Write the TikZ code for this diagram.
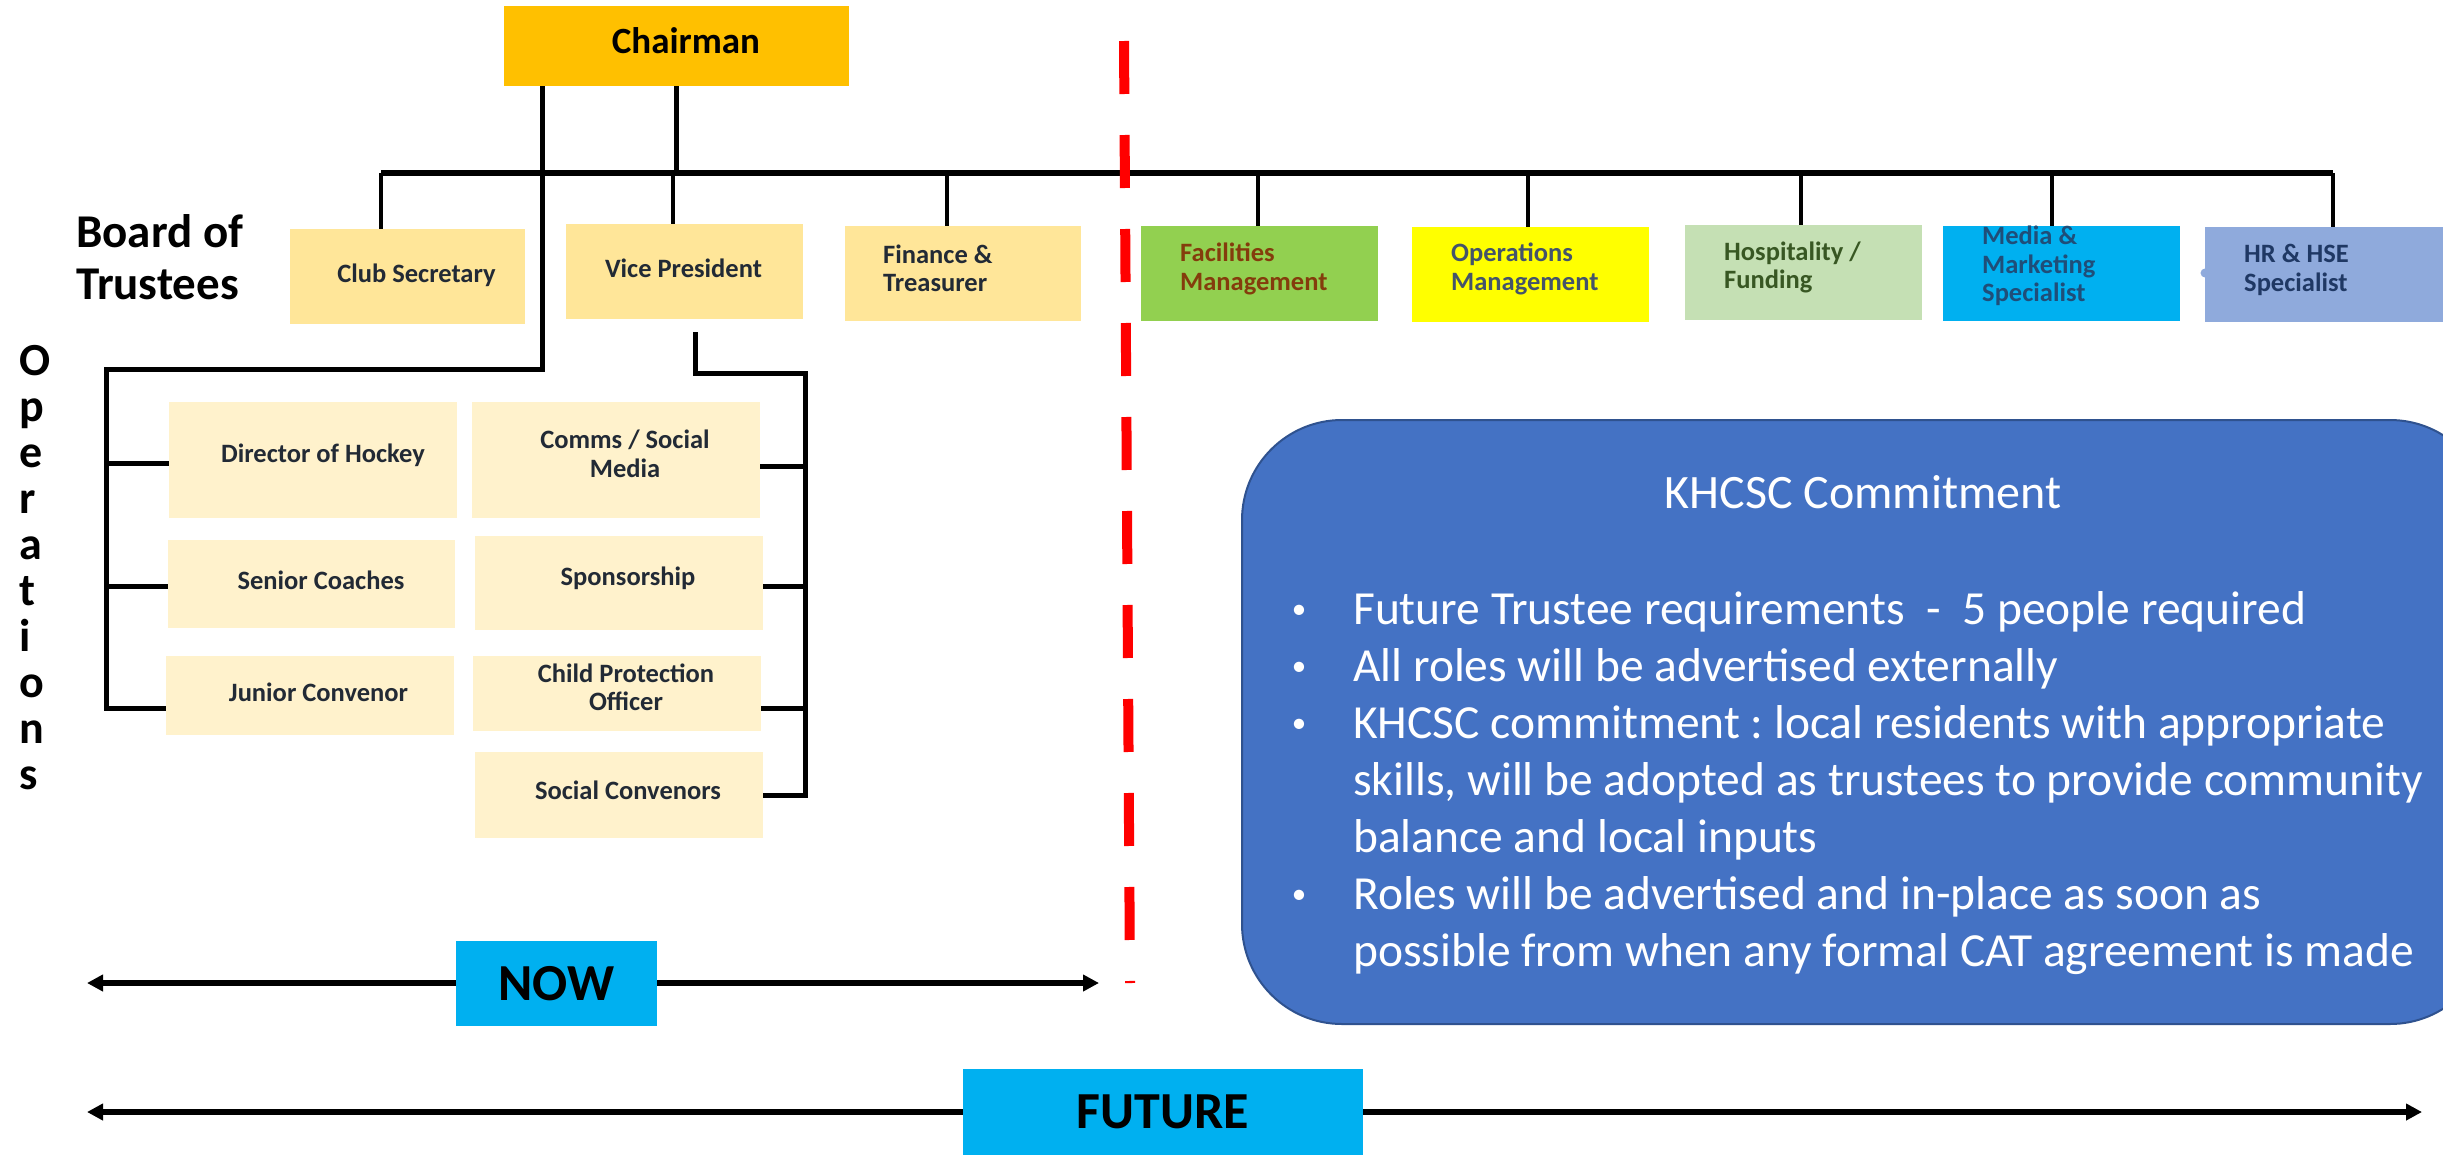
\documentclass[tikz,border=0pt]{standalone}
\usepackage{fontspec}
\setmainfont{Carlito}
\usetikzlibrary{arrows.meta}
\frenchspacing
\definecolor{chairc}{HTML}{FFC000}
\definecolor{boardc}{HTML}{FFE699}
\definecolor{opsc}{HTML}{FFF2CC}
\definecolor{facc}{HTML}{92D050}
\definecolor{factext}{HTML}{843C0C}
\definecolor{opmc}{HTML}{FFFF00}
\definecolor{opmtext}{HTML}{44546A}
\definecolor{hospc}{HTML}{C5E0B4}
\definecolor{hosptext}{HTML}{385723}
\definecolor{cyanc}{HTML}{00B0F0}
\definecolor{mediatext}{HTML}{1F4E79}
\definecolor{hrc}{HTML}{8FAADC}
\definecolor{hrtext}{HTML}{1F3864}
\definecolor{darktext}{HTML}{222A35}
\definecolor{bluebox}{HTML}{4472C4}
\definecolor{blueborder}{HTML}{2F528F}
\definecolor{redline}{HTML}{FF0000}
\begin{document}
\begin{tikzpicture}[x=1pt,y=-1pt,
  box/.style 2 args={draw=none,inner sep=0pt,outer sep=0pt,minimum width=#1pt,minimum height=#2pt},
  bt/.style={font=\fontsize{26.5}{28.5}\selectfont\bfseries,inner sep=0pt,align=center,text=darktext},
  btl/.style={bt,align=left,anchor=west},
  conn/.style={line width=5pt},
  drop/.style={line width=4.5pt},
  barl/.style={line width=6pt},
  tline/.style={line width=6pt,{Triangle[length=16pt,width=16pt]}-{Triangle[length=16pt,width=16pt]}},
  bigt/.style={font=\fontsize{47}{52}\selectfont\bfseries,inner sep=0pt,align=left},
  wt/.style={font=\fontsize{47.5}{57}\selectfont,text=white,inner sep=0pt},
  bult/.style={font=\fontsize{29}{30}\selectfont,text=white,inner sep=0pt,anchor=base},
]
\useasboundingbox (0,0) rectangle (2443,1154);
\clip (0,0) rectangle (2443,1154);

% ---------- coordinates for connectors
\coordinate (d1) at (381,173);
\coordinate (d2) at (673,173);
\coordinate (d3) at (947,173);
\coordinate (d4) at (1258,173);
\coordinate (d5) at (1528,173);
\coordinate (d6) at (1801,173);
\coordinate (d7) at (2052,173);
\coordinate (d8) at (2333,173);
\coordinate (cB) at (676,173);
\coordinate (cL) at (542,369);
\coordinate (L1) at (106,463);
\coordinate (L2) at (106,586);
\coordinate (L3) at (106,708);
\coordinate (cR) at (695,373);
\coordinate (R1) at (805,466);
\coordinate (R2) at (805,586);
\coordinate (R3) at (805,708);
\coordinate (R4) at (805,795);

% ---------- boxes
\node[box={345}{80},fill=chairc] (chair) at (676.5,46) {};
\node[box={235}{95},fill=boardc] (cs) at (407.5,276.5) {};
\node[box={237}{95},fill=boardc] (vp) at (684.5,271.5) {};
\node[box={236}{95},fill=boardc] (fin) at (963,273.5) {};
\node[box={237}{95},fill=facc] (fac) at (1259.5,273.5) {};
\node[box={237}{95},fill=opmc] (opm) at (1530.5,274.5) {};
\node[box={237}{95},fill=hospc] (hosp) at (1803.5,272.5) {};
\node[box={237}{95},fill=cyanc] (media) at (2061.5,273.5) {};
\node[box={240}{95},fill=hrc] (hr) at (2325,274.5) {};
\fill[hrc] (2205,273) circle (4.5);

\node[box={288}{116},fill=opsc] (dir) at (313,460) {};
\node[box={288}{116},fill=opsc] (comms) at (616,460) {};
\node[box={287}{88},fill=opsc] (sen) at (311.5,584) {};
\node[box={288}{94},fill=opsc] (spon) at (619,583) {};
\node[box={288}{79},fill=opsc] (jun) at (310,695.5) {};
\node[box={288}{75},fill=opsc] (child) at (617,693.5) {};
\node[box={288}{86},fill=opsc] (soc) at (619,795) {};

% ---------- connectors
\draw[barl] (d1) -- (d8);
\draw[conn] (chair.south -| cB) -- (cB);
\foreach \d/\b in {d1/cs,d2/vp,d3/fin,d4/fac,d5/opm,d6/hosp,d7/media,d8/hr}
  \draw[drop] (\d) -- (\d |- \b.north);
\draw[conn] (chair.south -| cL) -- (cL) -- (cL -| L3) -- (L3) -- (L3 -| jun.west);
\draw[conn] (L1) -- (L1 -| dir.west);
\draw[conn] (L2) -- (L2 -| sen.west);
\path ([yshift=-13pt]vp.south) coordinate (vpb);
\draw[conn] (vpb -| cR) -- (cR) -- (cR -| R4) -- (R4) -- (R4 -| soc.east);
\draw[conn] (R1) -- (R1 -| comms.east);
\draw[conn] (R2) -- (R2 -| spon.east);
\draw[conn] (R3) -- (R3 -| child.east);

% ---------- box texts
\node[font=\fontsize{37}{40}\selectfont\bfseries,inner sep=0pt] (chair-t) at (686,41) {Chairman};
\node[bt] (cs-t) at (416.5,275) {Club Secretary};
\node[bt] (vp-t) at (683.5,268) {Vice President};
\node[btl] (fin-t) at (883,268.5) {Finance \&\\Treasurer};
\node[btl,text=factext] (fac-t) at (1180,269) {Facilities\\Management};
\node[btl,text=opmtext] (opm-t) at (1451,269) {Operations\\Management};
\node[btl,text=hosptext] (hosp-t) at (1724,267.5) {Hospitality /\\Funding};
\node[btl,text=mediatext] (media-t) at (1982,266) {Media \&\\Marketing\\Specialist};
\node[btl,text=hrtext] (hr-t) at (2244,270) {HR \& HSE\\Specialist};

\node[bt] (dir-t) at (323,455) {Director of Hockey};
\node[bt] (comms-t) at (625,454) {Comms / Social\\Media};
\node[bt] (sen-t) at (321,580) {Senior Coaches};
\node[bt] (spon-t) at (628,578) {Sponsorship};
\node[bt] (jun-t) at (318.5,692) {Junior Convenor};
\node[bt] (child-t) at (626,687.5) {Child Protection\\Officer};
\node[bt] (soc-t) at (628,790) {Social Convenors};

% ---------- side labels
\node[bigt,anchor=south west] (board) at (76,300) {Board of\\Trustees};
\node[font=\fontsize{46}{46}\selectfont\bfseries,inner sep=0pt,align=left,anchor=south west] (opsl) at (19,790)
  {O\\p\\e\\r\\a\\t\\i\\o\\n\\s};

% ---------- red divider
\draw[redline,line width=10pt,dash pattern=on 53pt off 41pt] (1124,41) -- (1130,983);

% ---------- commitment box
\node[box={1248}{604},fill=bluebox,draw=blueborder,line width=2pt,rounded corners=100pt] (kbox) at (1866,722) {};
\node[font=\fontsize{48}{56}\selectfont,text=white,inner sep=0pt,anchor=base] (ktitle) at (1863,508) {KHCSC Commitment};
\node[bult] (b1) at (1299,618) {•};
\node[bult] (b2) at (1299,675) {•};
\node[bult] (b3) at (1299,732) {•};
\node[bult] (b4) at (1299,903) {•};
\node[wt,anchor=base west] (k1) at (1353,624) {Future Trustee requirements~~-~~5 people required};
\node[wt,anchor=base west] (k2) at (1353,681) {All roles will be advertised externally};
\node[wt,anchor=base west] (k3) at (1353,738) {KHCSC commitment : local residents with appropriate};
\node[wt,anchor=base west] (k4) at (1353,795) {skills, will be adopted as trustees to provide community};
\node[wt,anchor=base west] (k5) at (1353,852) {balance and local inputs};
\node[wt,anchor=base west] (k6) at (1353,909) {Roles will be advertised and in-place as soon as};
\node[wt,anchor=base west] (k7) at (1353,966) {possible from when any formal CAT agreement is made};

% ---------- timelines
\coordinate (nowL) at (87,983);
\coordinate (nowR) at (1099,983);
\coordinate (futL) at (87,1112);
\coordinate (futR) at (2422,1112);
\draw[tline] (nowL) -- (nowR);
\draw[tline] (futL) -- (futR);
\node[box={201}{85},fill=cyanc,font=\fontsize{52}{60}\selectfont\bfseries] (now) at (556.5,983.5) {NOW};
\node[box={400}{86},fill=cyanc,font=\fontsize{52}{60}\selectfont\bfseries] (future) at (1163,1112) {FUTURE};
\end{tikzpicture}
\end{document}
